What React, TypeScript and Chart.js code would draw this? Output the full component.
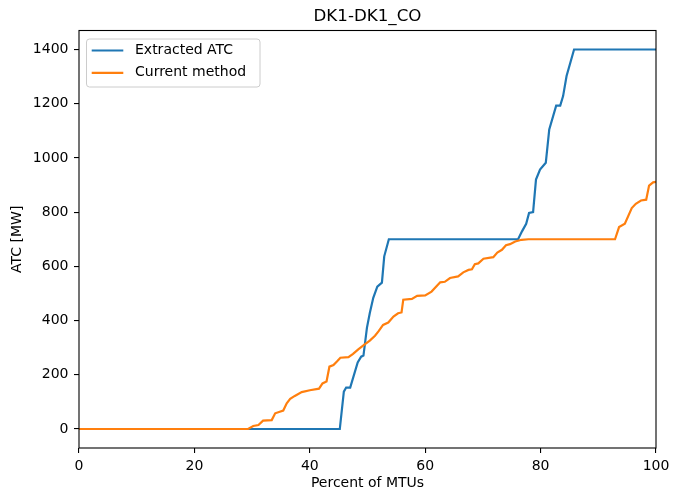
import { useEffect, useRef } from 'react';
import { Chart, registerables } from 'chart.js';

Chart.register(...registerables);

const TITLE = 'DK1-DK1_CO';
const X_LABEL = 'Percent of MTUs';
const Y_LABEL = 'ATC [MW]';
const SERIES_NAMES = ['Extracted ATC', 'Current method'];
const SERIES_COLORS = ['#1f77b4', '#ff7f0e'];

const extractedX = [0, 45.2, 45.9, 46.3, 47.0, 48.3, 48.9, 49.3, 49.9, 50.4, 51.0, 51.7, 52.5, 52.9, 53.7, 76.1, 76.8, 77.5, 78.0, 78.7, 79.2, 79.9, 80.9, 81.5, 82.7, 83.4, 83.9, 84.5, 85.8, 100];
const extractedY = [0, 0, 138, 153, 153, 246, 267, 271, 373, 428, 484, 525, 540, 637, 700, 700, 730, 757, 797, 800, 920, 957, 982, 1105, 1193, 1193, 1228, 1302, 1400, 1400];

const currentX = [0, 29.3, 30.2, 31.1, 31.9, 33.4, 34.0, 35.4, 36.0, 36.6, 37.4, 38.6, 40.0, 41.6, 42.2, 42.9, 43.4, 44.1, 44.7, 45.3, 46.7, 47.5, 48.4, 49.4, 50.4, 51.3, 51.9, 52.7, 53.6, 54.5, 55.3, 55.9, 56.2, 57.7, 58.6, 60.0, 61.1, 62.6, 63.4, 64.3, 65.7, 66.6, 67.5, 68.1, 68.6, 69.2, 70.1, 71.8, 72.5, 73.3, 74.0, 74.7, 75.6, 76.7, 77.9, 92.9, 93.6, 94.6, 95.8, 96.5, 97.4, 98.3, 98.8, 99.5, 100];
const currentY = [0, 0, 11, 15, 31, 33, 58, 68, 95, 111, 122, 136, 143, 149, 168, 175, 230, 236, 249, 263, 265, 277, 294, 310, 326, 344, 360, 384, 393, 415, 427, 430, 477, 480, 491, 493, 507, 541, 543, 557, 563, 578, 587, 589, 608, 611, 628, 634, 651, 661, 678, 682, 692, 698, 700, 700, 745, 757, 815, 831, 843, 846, 898, 910, 912];

const X_TICKS = [0, 20, 40, 60, 80, 100];
const Y_TICKS = [0, 200, 400, 600, 800, 1000, 1200, 1400];

const FONT = "'DejaVu Sans', sans-serif";

export default function App() {
  const ref = useRef<HTMLCanvasElement>(null);

  useEffect(() => {
    document.body.style.margin = '0';
    const canvas = ref.current;
    if (!canvas) return;

    const decorPlugin = {
      id: 'decor',
      afterDraw(chart: any) {
        const { ctx, chartArea: a } = chart;
        ctx.save();
        // frame
        ctx.strokeStyle = '#000';
        ctx.lineWidth = 1.1;
        ctx.strokeRect(a.left, a.top, a.right - a.left, a.bottom - a.top);
        // title
        ctx.fillStyle = '#000';
        ctx.font = `16.7px ${FONT}`;
        ctx.textAlign = 'center';
        ctx.textBaseline = 'alphabetic';
        ctx.fillText(TITLE, (a.left + a.right) / 2, a.top - 9.5);
        // legend
        const bx = a.left + 7.5;
        const by = a.top + 8.5;
        ctx.beginPath();
        (ctx as any).roundRect(bx, by, 173.5, 48, 3);
        ctx.fillStyle = 'rgba(255,255,255,0.8)';
        ctx.fill();
        ctx.strokeStyle = '#cccccc';
        ctx.lineWidth = 1;
        ctx.stroke();
        ctx.font = `14px ${FONT}`;
        ctx.textAlign = 'left';
        ctx.textBaseline = 'middle';
        SERIES_NAMES.forEach((name, i) => {
          const y = a.top + 20 + i * 22.3;
          ctx.strokeStyle = SERIES_COLORS[i];
          ctx.lineWidth = 2.2;
          ctx.beginPath();
          ctx.moveTo(a.left + 12.7, y);
          ctx.lineTo(a.left + 44.3, y);
          ctx.stroke();
          ctx.fillStyle = '#000';
          ctx.fillText(name, a.left + 56, y);
        });
        ctx.restore();
      },
    };

    const chart = new Chart(canvas, {
      type: 'line',
      data: {
        datasets: [
          {
            label: SERIES_NAMES[0],
            data: extractedX.map((x, i) => ({ x, y: extractedY[i] })),
            borderColor: SERIES_COLORS[0],
            backgroundColor: SERIES_COLORS[0],
            borderWidth: 2.2,
            pointRadius: 0,
            tension: 0,
            fill: false,
            order: 1,
          },
          {
            label: SERIES_NAMES[1],
            data: currentX.map((x, i) => ({ x, y: currentY[i] })),
            borderColor: SERIES_COLORS[1],
            backgroundColor: SERIES_COLORS[1],
            borderWidth: 2.2,
            pointRadius: 0,
            tension: 0,
            fill: false,
            order: 0,
          },
        ],
      },
      options: {
        responsive: false,
        animation: false,
        events: [],
        layout: { padding: { top: 30.5, right: 17, left: 0, bottom: 0 } },
        plugins: {
          legend: { display: false },
          title: { display: false },
          tooltip: { enabled: false },
        },
        scales: {
          x: {
            type: 'linear',
            min: 0,
            max: 100,
            afterBuildTicks: (s: any) => {
              s.ticks = X_TICKS.map((v) => ({ value: v }));
            },
            afterFit: (s: any) => {
              s.height = 44;
              s.paddingLeft = 0;
              s.paddingRight = 0;
            },
            grid: { drawOnChartArea: false, color: '#000', tickLength: 5, lineWidth: 1.1 },
            border: { display: false },
            ticks: { color: '#000', font: { family: FONT, size: 14 }, padding: 5, maxRotation: 0, autoSkip: false, callback: (v: any) => String(v) },
            title: { display: true, text: X_LABEL, color: '#000', font: { family: FONT, size: 14 }, padding: { top: 0, bottom: 0 } },
          },
          y: {
            type: 'linear',
            min: -70,
            max: 1470,
            afterBuildTicks: (s: any) => {
              s.ticks = Y_TICKS.map((v) => ({ value: v }));
            },
            afterFit: (s: any) => {
              s.width = 79;
              s.paddingTop = 0;
              s.paddingBottom = 0;
            },
            grid: { drawOnChartArea: false, color: '#000', tickLength: 5, lineWidth: 1.1 },
            border: { display: false },
            ticks: { color: '#000', font: { family: FONT, size: 14 }, padding: 5.5, autoSkip: false, callback: (v: any) => String(v) },
            title: { display: true, text: Y_LABEL, color: '#000', font: { family: FONT, size: 14 }, padding: { top: 8.5, bottom: 0 } },
          },
        },
      },
      plugins: [decorPlugin],
    } as any);

    return () => chart.destroy();
  }, []);

  return <canvas ref={ref} width={673} height={492} style={{ display: 'block' }} />;
}
